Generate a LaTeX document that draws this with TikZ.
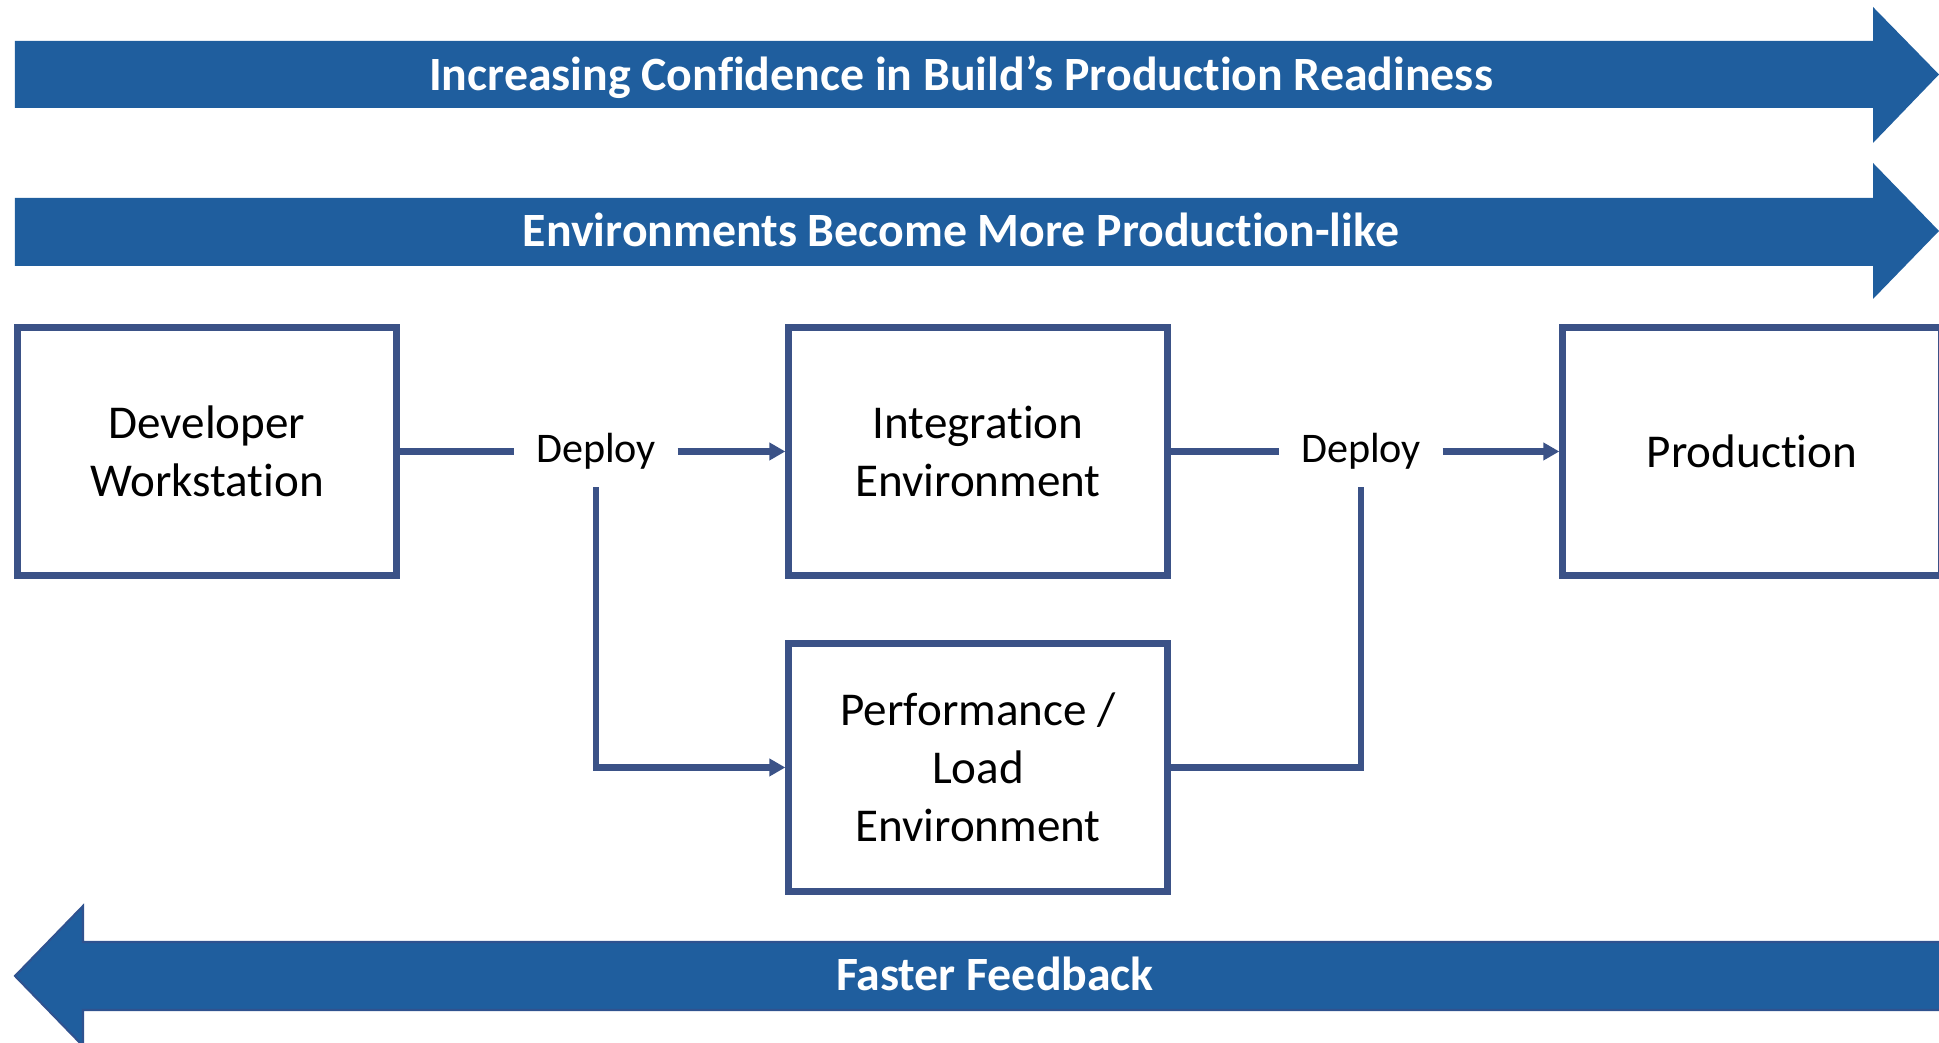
\documentclass[tikz,border=0pt]{standalone}
\usepackage{fontspec}
\setmainfont[Ligatures=NoCommon]{Carlito}
\usetikzlibrary{arrows.meta}
\definecolor{bandblue}{RGB}{31,94,158}
\definecolor{banddark}{RGB}{47,82,143}
\definecolor{boxline}{RGB}{59,82,135}
\tikzset{envbox/.style={draw=boxline,line width=1.8pt,minimum width=3.79cm,minimum height=2.48cm,align=center,font=\fontsize{13.4}{16.5}\selectfont}}
\tikzset{deploylbl/.style={minimum width=1.62cm,minimum height=0.7cm,inner sep=0pt,font=\fontsize{12}{14}\selectfont}}
\tikzset{flow/.style={draw=boxline,line width=1.8pt}}
\tikzset{tip/.style={-{Triangle[length=0.16cm,width=0.17cm]}}}
\tikzset{bandtext/.style={text=white,anchor=base,font=\bfseries\fontsize{13.6}{16}\selectfont}}

\begin{document}
\begin{tikzpicture}
\useasboundingbox (0,0) rectangle (19.39,10.43);
\clip (0,0) rectangle (19.39,10.43);
% bands
\fill[bandblue] (0.15,9.35) -- (18.73,9.35) -- (18.73,9.00) -- (19.39,9.685) -- (18.73,10.36) -- (18.73,10.02) -- (0.15,10.02) -- cycle;
\fill[bandblue] (0.15,7.77) -- (18.73,7.77) -- (18.73,7.44) -- (19.39,8.12) -- (18.73,8.80) -- (18.73,8.45) -- (0.15,8.45) -- cycle;
\filldraw[fill=bandblue,draw=banddark,line width=0.6pt] (0.15,0.67) -- (0.83,1.37) -- (0.83,1.01) -- (19.6,1.01) -- (19.6,0.33) -- (0.83,0.33) -- (0.83,-0.03) -- cycle;
\node[bandtext] (conf) at (9.61,9.52) {Increasing Confidence in Build’s Production Readiness};
\node[bandtext] (envs) at (9.61,7.96) {Environments Become More Production-like};
\node[bandtext] (fast) at (9.95,0.52) {Faster Feedback};
% environments
\node[envbox] (dev) at (2.07,5.915) {Developer\\Workstation};
\node[envbox] (integ) at (9.78,5.915) {Integration\\Environment};
\node[envbox] (perf) at (9.78,2.755) {Performance /\\Load\\Environment};
\node[envbox] (prod) at (17.52,5.915) {Production};
\node[deploylbl] (d1) at (5.96,5.915) {Deploy};
\node[deploylbl] (d2) at (13.61,5.915) {Deploy};
% connectors
\draw[flow] (dev) -- (d1);
\draw[flow,tip] (d1) -- (integ);
\draw[flow,tip] (d1.south) |- (perf);
\draw[flow] (integ) -- (d2);
\draw[flow,tip] (d2) -- (prod);
\draw[flow] (perf) -| (d2.south);
\end{tikzpicture}
\end{document}
